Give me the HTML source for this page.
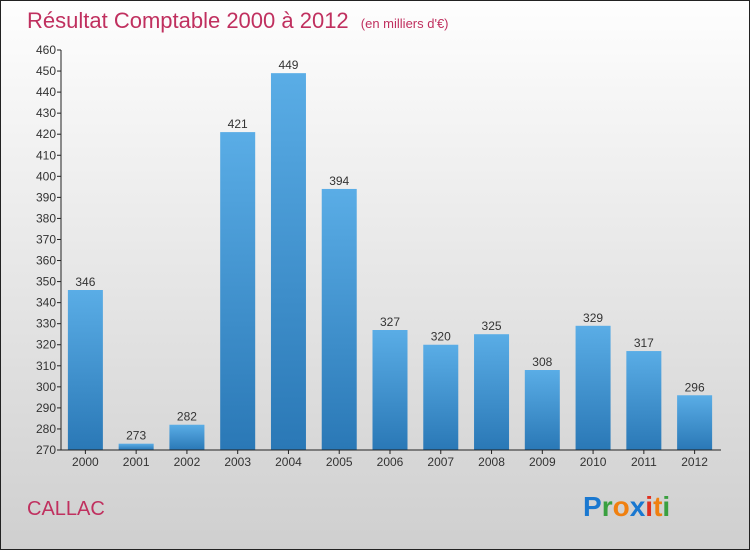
<!DOCTYPE html>
<html><head><meta charset="utf-8"><style>
body{margin:0;width:750px;height:550px;overflow:hidden;font-family:"Liberation Sans",sans-serif}
</style></head><body>
<svg width="750" height="550" xmlns="http://www.w3.org/2000/svg">
<defs>
<linearGradient id="bg" x1="0" y1="0" x2="0" y2="1"><stop offset="0" stop-color="#fefefe"/><stop offset="1" stop-color="#cfcfcf"/></linearGradient>
<linearGradient id="bar" x1="0" y1="0" x2="0" y2="1"><stop offset="0" stop-color="#5aade6"/><stop offset="1" stop-color="#2a78b6"/></linearGradient>
</defs>
<rect x="0.5" y="0.5" width="749" height="549" fill="url(#bg)" stroke="#222"/>
<text x="27" y="28" font-size="22" fill="#c0305f">Résultat Comptable 2000 à 2012 <tspan font-size="13" dx="6">(en milliers d'€)</tspan></text>
<g id="plot"></g>
<text x="27" y="515" font-size="20" fill="#c0305f">CALLAC</text>
<g font-size="28" font-weight="bold" font-family="Liberation Sans,sans-serif">
<text x="583" y="516"><tspan fill="#1a78d0">P</tspan><tspan fill="#3aa040">r</tspan><tspan fill="#f08010">o</tspan><tspan fill="#1a78d0">x</tspan><tspan fill="#e03020">i</tspan><tspan fill="#f08010">t</tspan><tspan fill="#3aa040">i</tspan></text>
</g>
</svg>
<script>
const years=["2000","2001","2002","2003","2004","2005","2006","2007","2008","2009","2010","2011","2012"];
const values=[346,273,282,421,449,394,327,320,325,308,329,317,296];
const yTicks=[270,280,290,300,310,320,330,340,350,360,370,380,390,400,410,420,430,440,450,460];
const NS="http://www.w3.org/2000/svg";
const plotG=document.getElementById('plot');
const yMin=270,yMax=460,plotTop=50,plotBot=450,plotLeft=61,plotRight=721;
const ys=v=>plotBot-(v-yMin)/(yMax-yMin)*(plotBot-plotTop);
const step=(plotRight-plotLeft)/years.length;
const xs=i=>plotLeft+step*(i+0.5)-1;
function mk(t,a){const e=document.createElementNS(NS,t);for(const k in a)e.setAttribute(k,a[k]);plotG.appendChild(e);return e;}
values.forEach((v,i)=>{
 const r=mk('rect',{x:xs(i)-17.5,y:ys(v),width:35,height:plotBot-ys(v),fill:'url(#bar)'});
 
 
 const t=mk('text',{x:xs(i),y:ys(v)-4,'text-anchor':'middle','font-size':12,fill:'#333'});t.textContent=v;
 
 
 mk('line',{x1:xs(i),x2:xs(i),y1:plotBot,y2:plotBot+4,stroke:'#222'});
 const xl=mk('text',{x:xs(i),y:plotBot+16,'text-anchor':'middle','font-size':12,fill:'#333'});xl.textContent=years[i];
 
 
});
yTicks.forEach(v=>{
 mk('line',{x1:plotLeft-4,x2:plotLeft,y1:ys(v),y2:ys(v),stroke:'#222'});
 const t=mk('text',{x:plotLeft-5,y:ys(v)+4,'text-anchor':'end','font-size':12,fill:'#333'});t.textContent=v;
 
 
});
const ya=mk('line',{x1:plotLeft,x2:plotLeft,y1:plotTop,y2:plotBot,stroke:'#222'});


const xa=mk('line',{x1:plotLeft,x2:plotRight,y1:plotBot,y2:plotBot,stroke:'#222'});


</script>
</body></html>
